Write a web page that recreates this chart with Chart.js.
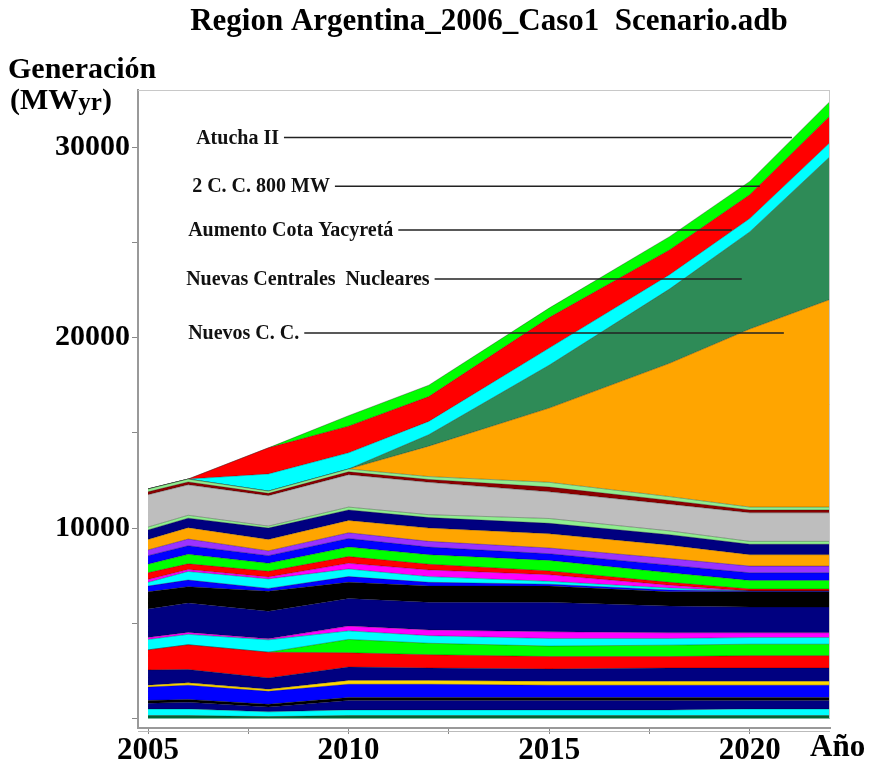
<!DOCTYPE html>
<html>
<head>
<meta charset="utf-8">
<title>Region Argentina_2006_Caso1 Scenario.adb</title>
<script src="https://cdn.jsdelivr.net/npm/chart.js@4.4.1/dist/chart.umd.min.js"></script>
<style>
  html, body { margin: 0; padding: 0; background: #fff; }
  #chart { display: block; }
</style>
</head>
<body>
<canvas id="chart" width="879" height="778"></canvas>
<script>
// Generación (MWyr) por año, capas apiladas de abajo hacia arriba
const years = [2005, 2006, 2008, 2010, 2012, 2015, 2018, 2020, 2022];
const xTicks = [2005, 2007.5, 2010, 2012.5, 2015, 2017.5, 2020];
const yTicks = [0, 5000, 10000, 15000, 20000, 25000, 30000];

// parque existente (miles de MWyr)
const capa01 = [0.15, 0.15, 0.10, 0.15, 0.15, 0.15, 0.15, 0.15, 0.15];
const capa02 = [0.35, 0.35, 0.25, 0.30, 0.30, 0.30, 0.30, 0.35, 0.35];
const capa03 = [0.30, 0.35, 0.25, 0.50, 0.50, 0.50, 0.50, 0.45, 0.45];
const capa04 = [0.15, 0.15, 0.15, 0.15, 0.15, 0.15, 0.15, 0.15, 0.15];
const capa05 = [0.70, 0.75, 0.68, 0.70, 0.70, 0.65, 0.65, 0.65, 0.65];
const capa06 = [0.10, 0.12, 0.10, 0.20, 0.20, 0.20, 0.20, 0.20, 0.20];
const capa07 = [0.80, 0.70, 0.60, 0.70, 0.65, 0.65, 0.70, 0.70, 0.70];
const capa08 = [1.05, 1.30, 1.35, 0.75, 0.70, 0.65, 0.60, 0.65, 0.65];
const capa09 = [0.00, 0.00, 0.00, 0.70, 0.60, 0.55, 0.60, 0.60, 0.60];
const capa10 = [0.55, 0.55, 0.65, 0.45, 0.40, 0.40, 0.35, 0.35, 0.35];
const capa11 = [0.10, 0.10, 0.05, 0.25, 0.30, 0.35, 0.30, 0.25, 0.25];
const capa12 = [1.50, 1.55, 1.45, 1.45, 1.45, 1.55, 1.40, 1.35, 1.35];
const capa13 = [0.90, 0.85, 1.05, 0.85, 0.85, 0.85, 0.75, 0.80, 0.80];
const capa14 = [0.30, 0.35, 0.15, 0.30, 0.20, 0.10, 0.10, 0.05, 0.05];
const capa15 = [0.20, 0.45, 0.50, 0.40, 0.30, 0.15, 0.10, 0.00, 0.00];
const capa16 = [0.15, 0.10, 0.10, 0.30, 0.35, 0.35, 0.15, 0.00, 0.00];
const capa17 = [0.35, 0.30, 0.30, 0.35, 0.30, 0.20, 0.15, 0.10, 0.10];
const capa18 = [0.45, 0.50, 0.42, 0.50, 0.50, 0.55, 0.50, 0.45, 0.45];
const capa19 = [0.45, 0.45, 0.40, 0.45, 0.40, 0.35, 0.40, 0.40, 0.40];
const capa20 = [0.30, 0.35, 0.25, 0.30, 0.30, 0.30, 0.35, 0.35, 0.35];
const capa21 = [0.55, 0.60, 0.60, 0.65, 0.70, 0.75, 0.70, 0.60, 0.60];
const capa22 = [0.50, 0.50, 0.60, 0.55, 0.55, 0.55, 0.55, 0.55, 0.55];
const capa23 = [0.15, 0.15, 0.10, 0.15, 0.15, 0.25, 0.20, 0.15, 0.15];
const capa24 = [1.70, 1.60, 1.60, 1.70, 1.70, 1.40, 1.40, 1.50, 1.50];
const capa25 = [0.15, 0.15, 0.12, 0.15, 0.15, 0.25, 0.20, 0.15, 0.15];
const capa26 = [0.15, 0.15, 0.12, 0.15, 0.15, 0.25, 0.20, 0.15, 0.15];

// nuevas obras
const nuevosCC        = [0, 0, 0,    0,    1.60, 3.90, 7.00, 9.35, 10.90];
const nuevasNucleares = [0, 0, 0,    0,    0.60, 2.25, 3.90, 5.10, 7.50];
const cotaYacyreta    = [0, 0, 0.90, 0.85, 0.70, 0.90, 0.75, 0.70, 0.74];
const cc800           = [0, 0, 1.37, 1.40, 1.30, 1.60, 1.30, 1.25, 1.40];
const atuchaII        = [0, 0, 0,    0.55, 0.60, 0.50, 0.70, 0.70, 0.76];

const NAVY = '#000080', BLUE = '#0000FF', CYAN = '#00FFFF', RED = '#FF0000',
      GREEN = '#00FF00', BLACK = '#000000', MAGENTA = '#FF00FF';

const series = [
    [capa01, '#006633'], [capa02, CYAN], [capa03, NAVY], [capa04, BLACK],
    [capa05, BLUE], [capa06, '#FFD700'], [capa07, NAVY], [capa08, RED],
    [capa09, GREEN], [capa10, CYAN], [capa11, MAGENTA], [capa12, NAVY],
    [capa13, BLACK], [capa14, BLUE], [capa15, CYAN], [capa16, MAGENTA],
    [capa17, RED], [capa18, GREEN], [capa19, BLUE], [capa20, '#9933FF'],
    [capa21, '#FFA500'], [capa22, NAVY], [capa23, '#90EE90'], [capa24, '#BEBEBE'],
    [capa25, '#8B0000'], [capa26, '#90EE90'],
    [nuevosCC, '#FFA500'], [nuevasNucleares, '#2E8B57'], [cotaYacyreta, CYAN],
    [cc800, RED], [atuchaII, GREEN]
];

// etiquetas con línea guía (posición en año / MWyr)
const notes = [
    { text: 'Atucha II', x: 2006.2, xEnd: 2021.05, y: 30500 },
    { text: '2 C. C. 800 MW', x: 2006.1, xEnd: 2020.25, y: 27950 },
    { text: 'Aumento Cota Yacyretá', x: 2006.0, xEnd: 2019.55, y: 25650 },
    { text: 'Nuevas Centrales  Nucleares', x: 2005.95, xEnd: 2019.8, y: 23080 },
    { text: 'Nuevos C. C.', x: 2006.0, xEnd: 2020.85, y: 20240 }
];

const SERIF = "'Liberation Serif', 'Times New Roman', serif";

const datasets = series.map(function(s, i) {
    return {
        data: years.map((yr, k) => ({ x: yr, y: s[0][k] * 1000 })),
        backgroundColor: s[1],
        borderColor: 'rgba(0,0,0,0.3)',
        borderWidth: 1,
        fill: i === 0 ? 'origin' : '-1',
        pointRadius: 0,
        tension: 0
    };
});

const decor = {
    id: 'decor',
    afterDraw(chart) {
        const c = chart.ctx, a = chart.chartArea;
        const xs = chart.scales.x, ys = chart.scales.y;
        c.save();

        // marco superior y derecho
        c.strokeStyle = '#c8c8c8';
        c.lineWidth = 1;
        c.beginPath();
        c.moveTo(a.left, a.top + 0.5);
        c.lineTo(a.right, a.top + 0.5);
        c.moveTo(a.right - 0.5, ys.getPixelForValue(0));
        c.lineTo(a.right - 0.5, a.top);
        c.stroke();

        // segunda línea del eje x
        c.strokeStyle = '#bbb';
        c.beginPath();
        c.moveTo(a.left, a.bottom + 3.5);
        c.lineTo(a.right, a.bottom + 3.5);
        c.stroke();

        // etiquetas de nuevas obras
        c.font = 'bold 20px ' + SERIF;
        c.textBaseline = 'middle';
        c.fillStyle = '#111';
        notes.forEach(n => {
            const px = xs.getPixelForValue(n.x);
            const py = ys.getPixelForValue(n.y);
            c.fillText(n.text, px, py + 1);
            const w = c.measureText(n.text).width;
            c.strokeStyle = '#222';
            c.lineWidth = 1.5;
            c.beginPath();
            c.moveTo(px + w + 5, py);
            c.lineTo(xs.getPixelForValue(n.xEnd), py);
            c.stroke();
        });

        // título
        c.fillStyle = '#000';
        c.textAlign = 'center';
        c.font = 'bold 31px ' + SERIF;
        c.fillText('Region Argentina_2006_Caso1  Scenario.adb', 489, 22);

        // títulos de ejes
        c.font = 'bold 30px ' + SERIF;
        c.textAlign = 'left';
        c.fillText('Generación', 8, 70);
        let x = 10;
        c.fillText('(MW', x, 101);
        x += c.measureText('(MW').width;
        c.font = 'bold 25px ' + SERIF;
        c.fillText('yr', x, 104);
        x += c.measureText('yr').width;
        c.font = 'bold 30px ' + SERIF;
        c.fillText(')', x, 101);
        c.font = 'bold 31px ' + SERIF;
        c.fillText('Año', 810, 748);
        c.restore();
    }
};

new Chart(document.getElementById('chart'), {
    type: 'line',
    data: { datasets: datasets },
    options: {
        responsive: false,
        animation: false,
        devicePixelRatio: 1,
        layout: { padding: { top: 90, right: 49, left: 0, bottom: 0 } },
        plugins: {
            legend: { display: false },
            tooltip: { enabled: false },
            title: { display: false }
        },
        scales: {
            x: {
                type: 'linear',
                min: 2004.75,
                max: 2022,
                afterBuildTicks: s => { s.ticks = xTicks.map(v => ({ value: v })); },
                afterFit: s => { s.height = 50; },
                grid: { drawOnChartArea: false, tickLength: 6, color: '#888' },
                border: { color: '#999', width: 2 },
                ticks: {
                    autoSkip: false,
                    maxRotation: 0,
                    padding: -2,
                    color: '#000',
                    font: { family: SERIF, size: 31, weight: 'bold' },
                    callback: v => (v % 5 === 0 ? String(v) : '')
                }
            },
            y: {
                stacked: true,
                min: -500,
                max: 33000,
                afterBuildTicks: s => { s.ticks = yTicks.map(v => ({ value: v })); },
                afterFit: s => { s.width = 138; },
                grid: { drawOnChartArea: false, tickLength: 6, color: '#888' },
                border: { color: '#999', width: 2 },
                ticks: {
                    padding: 2,
                    color: '#000',
                    font: { family: SERIF, size: 30, weight: 'bold' },
                    callback: v => (v % 10000 === 0 && v > 0 ? String(v) : '')
                }
            }
        }
    },
    plugins: [decor]
});
</script>
</body>
</html>
